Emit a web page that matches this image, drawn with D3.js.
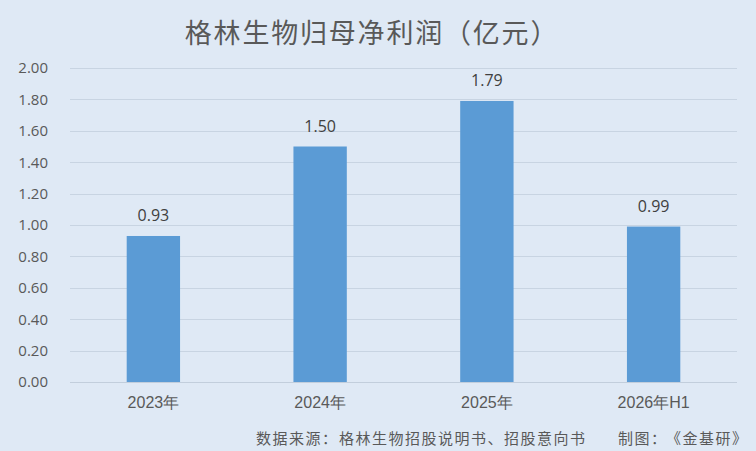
<!DOCTYPE html>
<html><head><meta charset="utf-8">
<script src="https://cdn.jsdelivr.net/npm/d3@7"></script>
<style>
html,body{margin:0;padding:0;background:#dfe9f5;}
svg{display:block;font-family:"Noto Sans CJK SC","Noto Sans",sans-serif;}
</style></head>
<body><svg id="c" width="756" height="451"></svg>
<script>
const categories = ["2023年","2024年","2025年","2026年H1"];
const values = [0.93, 1.50, 1.79, 0.99];
const valueLabels = ["0.93","1.50","1.79","0.99"];
const yTicks = [0,0.2,0.4,0.6,0.8,1.0,1.2,1.4,1.6,1.8,2.0];
const title = "格林生物归母净利润（亿元）";
const sourceParts = ["数据来源：","格林生物招股说明书、招股意向书","制图：","《金基研》"];

const svg = d3.select("#c");
svg.append("rect").attr("width",756).attr("height",451).attr("fill","#dfe9f5");
const m = {left:70, right:19, top:68, bottom:69};
const W = 756, H = 451;
const x = d3.scaleBand().domain(categories).range([m.left, W-m.right]).paddingInner(0.68).paddingOuter(0.34);
const y = d3.scaleLinear().domain([0,2]).range([H-m.bottom, m.top]);

const grid = svg.append("g");
grid.selectAll("line").data(yTicks.slice(1)).join("line")
  .attr("x1",m.left).attr("x2",W-m.right)
  .attr("y1",d=>Math.round(y(d))+0.5).attr("y2",d=>Math.round(y(d))+0.5)
  .attr("stroke","#c8d4e2").attr("stroke-width",1);

const ya = svg.append("g").attr("transform",`translate(${m.left},0)`)
  .call(d3.axisLeft(y).tickValues(yTicks).tickFormat(d3.format(".2f")).tickSize(0).tickPadding(22));
ya.select(".domain").remove();
ya.selectAll("text").attr("fill","#595959").style("font-size","15px").style("font-family","'Open Sans','Noto Sans',sans-serif");

svg.append("g").selectAll("rect").data(values).join("rect")
  .attr("x",(d,i)=>x(categories[i])).attr("width",x.bandwidth())
  .attr("y",d=>y(d)).attr("height",d=>y(0)-y(d)).attr("fill","#5b9bd5");

svg.append("line").attr("x1",m.left).attr("x2",W-m.right)
  .attr("y1",Math.round(y(0))+0.5).attr("y2",Math.round(y(0))+0.5).attr("stroke","#c2cedc");

const xa = svg.append("g").attr("transform",`translate(0,${y(0)})`)
  .call(d3.axisBottom(x).tickSize(0).tickPadding(15));
xa.select(".domain").remove();
xa.selectAll("text").attr("fill","#595959").style("font-size","16px");

svg.append("g").selectAll("text").data(values).join("text")
  .attr("x",(d,i)=>x(categories[i])+x.bandwidth()/2).attr("y",d=>y(d)-15)
  .attr("text-anchor","middle").attr("fill","#404040")
  .style("font-size","16px").style("font-family","'Open Sans','Noto Sans',sans-serif")
  .text((d,i)=>valueLabels[i]);

svg.append("text").attr("x",372).attr("y",43).attr("text-anchor","middle")
  .attr("fill","#595959").style("font-size","27px").style("letter-spacing","1.8px").text(title);

const srcX = [256, 339, 618, 666];
const src = svg.append("text").attr("y",444).attr("fill","#595959").style("font-size","15px").style("letter-spacing","1.5px");
src.selectAll("tspan").data(sourceParts).join("tspan").attr("x",(d,i)=>srcX[i]).text(d=>d);
</script></body></html>
